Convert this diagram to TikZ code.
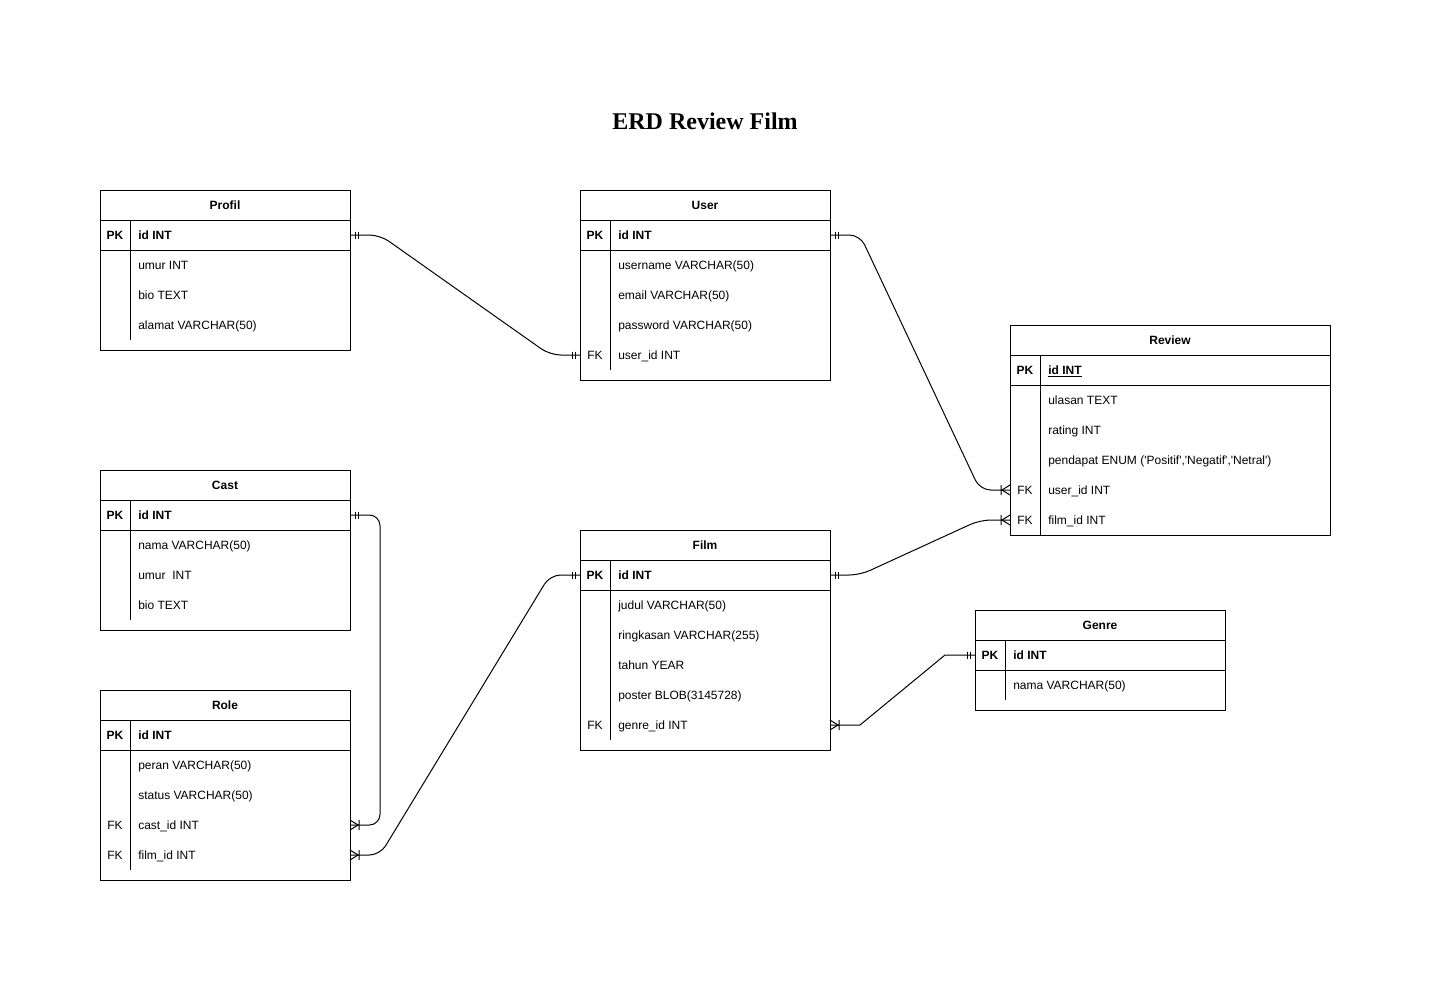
\documentclass[tikz,border=0pt]{standalone}
\usepackage{fontspec}
\setmainfont{Liberation Sans}
\newfontfamily\titlefont{Liberation Serif}
\usetikzlibrary{calc}
\tikzset{
  x={(0.75pt,0)}, y={(0,-0.75pt)},
  tline/.style={draw=black, line width=0.75pt},
  conn/.style={draw=black, line width=0.75pt, rounded corners=8pt},
  hdr/.style={font=\fontsize{9}{11}\selectfont\bfseries, inner sep=0pt, text height=6.6pt, text depth=1.9pt},
  keyt/.style={font=\fontsize{9}{11}\selectfont, inner sep=0pt, text height=6.6pt, text depth=1.9pt},
  fldt/.style={font=\fontsize{9}{11}\selectfont, inner sep=0pt, anchor=west, text height=6.6pt, text depth=1.9pt},
  one/.pic={\draw[line width=0.75pt] (5,-3.5) -- (5,3.5) (8,-3.5) -- (8,3.5);},
  many/.pic={\draw[line width=0.75pt] (0,-5) -- (8,0) -- (0,5) (9,-5) -- (9,5);},
}
% table frame: #1 name, #2 x0, #3 top, #4 x1, #5 bottom, #6 title, #7 divider bottom
\newcommand{\ertable}[7]{%
  \draw[tline] (#2,#3) rectangle (#4,#5);
  \node[hdr] (#1) at ({(#2+#4)/2},#3+16.5) {#6};
  \draw[tline] (#2,#3+30) -- (#4,#3+30) (#2,#3+60) -- (#4,#3+60);
  \draw[tline] (#2+30,#3+30) -- (#2+30,#7);
}
% row: #1 name, #2 x0, #3 x1, #4 top, #5 key, #6 text
\newcommand{\errow}[6]{%
  \node[keyt] (#1-k) at (#2+15,#4+16.5) {#5};
  \node[fldt] (#1) at (#2+38,#4+16.5) {#6};
  \coordinate (#1-l) at (#2,#4+15);
  \coordinate (#1-r) at (#3,#4+15);
}
\newcommand{\q}{\textquotesingle}
\begin{document}
\begin{tikzpicture}
\useasboundingbox[fill=white] (0,0) rectangle (1431,981);

\node[font=\titlefont\fontsize{18}{22}\selectfont\bfseries, inner sep=0pt] (title) at (705,121) {ERD Review Film};

% Profil
\ertable{profil}{100}{190}{350}{350}{Profil}{340}
\errow{profil-id}{100}{350}{220}{\bfseries PK}{\bfseries id INT}
\errow{profil-umur}{100}{350}{250}{}{umur INT}
\errow{profil-bio}{100}{350}{280}{}{bio TEXT}
\errow{profil-alamat}{100}{350}{310}{}{alamat VARCHAR(50)}

% User
\ertable{user}{580}{190}{830}{380}{User}{370}
\errow{user-id}{580}{830}{220}{\bfseries PK}{\bfseries id INT}
\errow{user-username}{580}{830}{250}{}{username VARCHAR(50)}
\errow{user-email}{580}{830}{280}{}{email VARCHAR(50)}
\errow{user-password}{580}{830}{310}{}{password VARCHAR(50)}
\errow{user-uid}{580}{830}{340}{FK}{user\_id INT}

% Review
\ertable{review}{1010}{325}{1330}{535}{Review}{535}
\errow{review-id}{1010}{1330}{355}{\bfseries PK}{\bfseries\underline{id INT}}
\errow{review-ulasan}{1010}{1330}{385}{}{ulasan TEXT}
\errow{review-rating}{1010}{1330}{415}{}{rating INT}
\errow{review-pendapat}{1010}{1330}{445}{}{pendapat ENUM (\q Positif\q,\q Negatif\q,\q Netral\q)}
\errow{review-uid}{1010}{1330}{475}{FK}{user\_id INT}
\errow{review-fid}{1010}{1330}{505}{FK}{film\_id INT}

% Cast
\ertable{cast}{100}{470}{350}{630}{Cast}{620}
\errow{cast-id}{100}{350}{500}{\bfseries PK}{\bfseries id INT}
\errow{cast-nama}{100}{350}{530}{}{nama VARCHAR(50)}
\errow{cast-umur}{100}{350}{560}{}{umur\ \ INT}
\errow{cast-bio}{100}{350}{590}{}{bio TEXT}

% Role
\ertable{role}{100}{690}{350}{880}{Role}{870}
\errow{role-id}{100}{350}{720}{\bfseries PK}{\bfseries id INT}
\errow{role-peran}{100}{350}{750}{}{peran VARCHAR(50)}
\errow{role-status}{100}{350}{780}{}{status VARCHAR(50)}
\errow{role-cid}{100}{350}{810}{FK}{cast\_id INT}
\errow{role-fid}{100}{350}{840}{FK}{film\_id INT}

% Film
\ertable{film}{580}{530}{830}{750}{Film}{740}
\errow{film-id}{580}{830}{560}{\bfseries PK}{\bfseries id INT}
\errow{film-judul}{580}{830}{590}{}{judul VARCHAR(50)}
\errow{film-ringkasan}{580}{830}{620}{}{ringkasan VARCHAR(255)}
\errow{film-tahun}{580}{830}{650}{}{tahun YEAR}
\errow{film-poster}{580}{830}{680}{}{poster BLOB(3145728)}
\errow{film-gid}{580}{830}{710}{FK}{genre\_id INT}

% Genre
\ertable{genre}{975}{610}{1225}{710}{Genre}{700}
\errow{genre-id}{975}{1225}{640}{\bfseries PK}{\bfseries id INT}
\errow{genre-nama}{975}{1225}{670}{}{nama VARCHAR(50)}

% Connectors
\draw[conn] (profil-id-r) -- ($(profil-id-r)+(30,0)$) -- ($(user-uid-l)+(-30,0)$) -- (user-uid-l);
\pic at (profil-id-r) {one};
\pic[xscale=-1] at (user-uid-l) {one};

\draw[conn] (user-id-r) -- ($(user-id-r)+(30,0)$) -- ($(review-uid-l)+(-30,0)$) -- (review-uid-l);
\pic at (user-id-r) {one};
\pic[xscale=-1] at (review-uid-l) {many};

\draw[conn] (film-id-r) -- ($(film-id-r)+(30,0)$) -- ($(review-fid-l)+(-30,0)$) -- (review-fid-l);
\pic at (film-id-r) {one};
\pic[xscale=-1] at (review-fid-l) {many};

\draw[conn] (cast-id-r) -- ($(cast-id-r)+(30,0)$) -- ($(role-cid-r)+(30,0)$) -- (role-cid-r);
\pic at (cast-id-r) {one};
\pic at (role-cid-r) {many};

\draw[conn] (film-id-l) -- ($(film-id-l)+(-30,0)$) -- ($(role-fid-r)+(30,0)$) -- (role-fid-r);
\pic[xscale=-1] at (film-id-l) {one};
\pic at (role-fid-r) {many};

\draw[tline] (genre-id-l) -- ($(genre-id-l)+(-30,0)$) -- ($(film-gid-r)+(30,0)$) -- (film-gid-r);
\pic[xscale=-1] at (genre-id-l) {one};
\pic at (film-gid-r) {many};
\end{tikzpicture}
\end{document}
